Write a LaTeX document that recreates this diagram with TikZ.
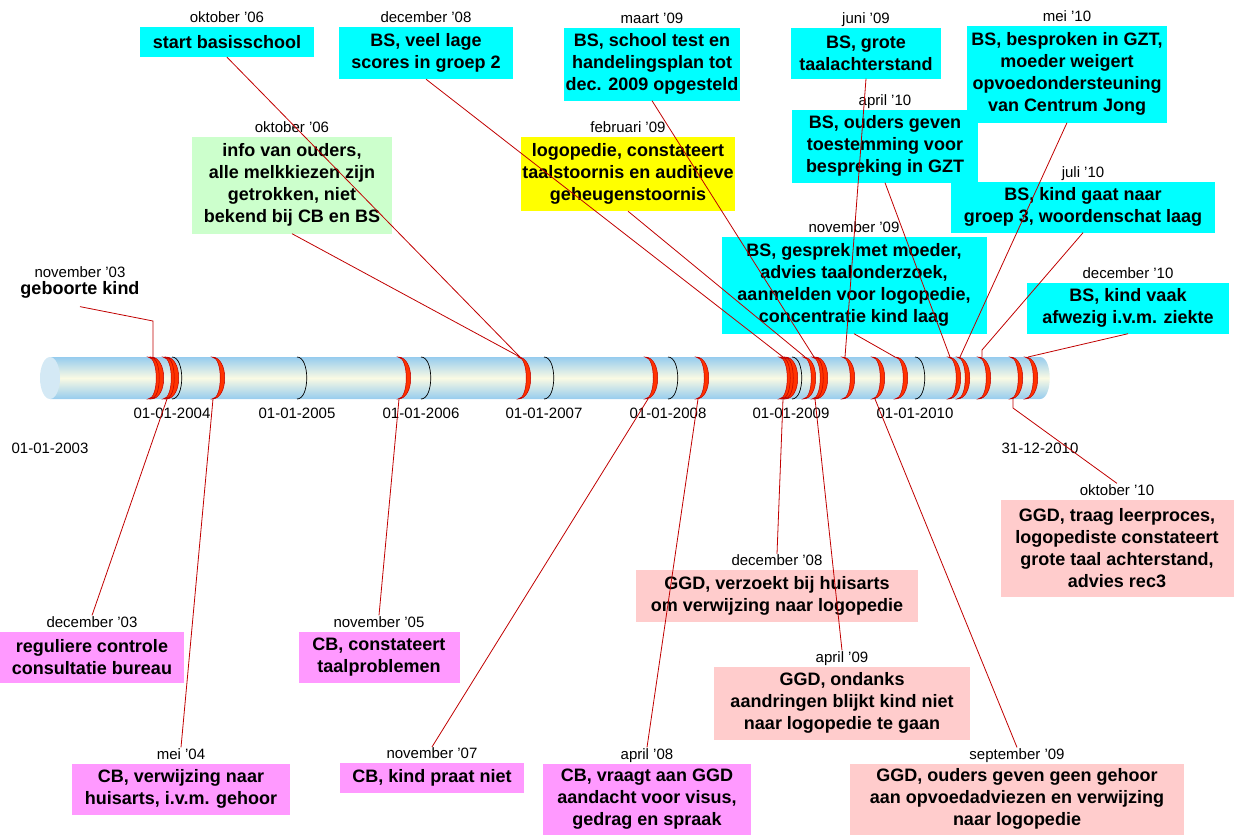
\documentclass[tikz,border=0pt]{standalone}
\usepackage{fontspec}
\setmainfont{Liberation Sans}
\usetikzlibrary{positioning}

\definecolor{bscyan}{HTML}{00FFFF}
\definecolor{cbroze}{HTML}{FF99FF}
\definecolor{ggdroze}{HTML}{FFCCCC}
\definecolor{infogroen}{HTML}{CCFFCC}
\definecolor{logogeel}{HTML}{FFFF00}
\definecolor{lijnrood}{HTML}{C00000}
\definecolor{ringrood}{HTML}{FF3300}
\definecolor{buisblauw}{HTML}{96CCEE}
\definecolor{buiscreme}{HTML}{FAFAE4}
\definecolor{buiseind}{HTML}{D4E9F5}

\tikzset{
  gebeurtenis/.style={font=\bfseries\fontsize{18}{22}\selectfont, align=center, inner sep=0pt},
  bs/.style={gebeurtenis, fill=bscyan},
  cb/.style={gebeurtenis, fill=cbroze},
  ggd/.style={gebeurtenis, fill=ggdroze},
  datum/.style={font=\fontsize{15}{17}\selectfont, inner sep=1pt, text height=10.5pt, text depth=3pt},
  jaartal/.style={font=\fontsize{15}{17}\selectfont, inner sep=0pt},
  lijn/.style={draw=lijnrood, line width=0.8pt},
}

\begin{document}
\begin{tikzpicture}[x=1pt, y=-1pt]
\useasboundingbox (0,0) rectangle (1234,836);
%
% de tijdbuis
	\shade[top color=buisblauw, bottom color=buisblauw, middle color=buiscreme]
		(50,357) -- (1040,357) .. controls (1053,357) and (1053,399) .. (1040,399) -- (50,399) -- cycle;
	\fill[buiseind] (50,378) ellipse [x radius=10, y radius=21];
%
% jaargrenzen
	\foreach \x in {172,297,421,544,668,792,915}
		\draw[line width=0.7pt] (\x,357) .. controls (\x+13,357) and (\x+13,399) .. (\x,399);
%
% gebeurtenissen
	\foreach \x in {148,151,163,166,212,398,518,645,696,779,782,785,803,812,815,842,872,895,948,957,978,1010,1025}
		\draw[draw=lijnrood, fill=ringrood, line width=0.5pt] (\x,357) .. controls (\x+17,357) and (\x+17,399) .. (\x,399)
			.. controls (\x+11,399) and (\x+11,357) .. (\x,357) -- cycle;
%
	\node[jaartal] (j2003) at (50,448) {01-01-2003};
	\node[jaartal] (j2004) at (172,413) {01-01-2004};
	\node[jaartal] (j2005) at (297,413) {01-01-2005};
	\node[jaartal] (j2006) at (421,413) {01-01-2006};
	\node[jaartal] (j2007) at (544,413) {01-01-2007};
	\node[jaartal] (j2008) at (668,413) {01-01-2008};
	\node[jaartal] (j2009) at (791,413) {01-01-2009};
	\node[jaartal] (j2010) at (915,413) {01-01-2010};
	\node[jaartal] (jeind) at (1040,448) {31-12-2010};
%
% aanhechtpunten op de buis
	\coordinate (p-geb) at (153,357);
	\coordinate (p-okt06) at (520,357);
	\coordinate (p-dec08) at (783,357);
	\coordinate (p-feb09) at (805,357);
	\coordinate (p-mrt09) at (814,357);
	\coordinate (p-jun09) at (845,357);
	\coordinate (p-nov09) at (895,357);
	\coordinate (p-apr10) at (950,357);
	\coordinate (p-mei10) at (960,357);
	\coordinate (p-jul10) at (982,357);
	\coordinate (p-dec10) at (1028,357);
	\coordinate (q-dec03) at (167,399);
	\coordinate (q-mei04) at (213,399);
	\coordinate (q-nov05) at (399,399);
	\coordinate (q-nov07) at (648,399);
	\coordinate (q-apr08) at (698,399);
	\coordinate (q-dec08) at (783,399);
	\coordinate (q-apr09) at (815,399);
	\coordinate (q-sep09) at (875,399);
	\coordinate (q-okt10) at (1013,399);
%
% boven de buis
	\node[gebeurtenis] (geb) at (80,290) {geboorte kind};
	\node[datum, above=0pt of geb] (gebd) {november '03};
	\node[bs, minimum width=174, minimum height=30] (start) at (227,42) {start basisschool};
	\node[datum, above=0pt of start] (startd) {oktober '06};
	\node[bs, minimum width=174, minimum height=52] (scores) at (426,53) {BS, veel lage\\scores in groep 2};
	\node[datum, above=0pt of scores] (scoresd) {december '08};
	\node[bs, minimum width=176, minimum height=73] (test) at (652,64) {BS, school test en\\handelingsplan tot\\dec. 2009 opgesteld};
	\node[datum, above=0pt of test] (testd) {maart '09};
	\node[bs, minimum width=150, minimum height=51] (achter) at (866,53) {BS, grote\\taalachterstand};
	\node[datum, above=0pt of achter] (achterd) {juni '09};
	\node[bs, minimum width=200, minimum height=97] (gzt) at (1067,74) {BS, besproken in GZT,\\moeder weigert\\opvoedondersteuning\\van Centrum Jong};
	\node[datum, above=0pt of gzt] (gztd) {mei '10};
	\node[gebeurtenis, fill=infogroen, minimum width=200, minimum height=97] (info) at (292,185) {info van ouders,\\alle melkkiezen zijn\\getrokken, niet\\bekend bij CB en BS};
	\node[datum, above=0pt of info] (infod) {oktober '06};
	\node[gebeurtenis, fill=logogeel, minimum width=214, minimum height=74] (logo) at (628,174) {logopedie, constateert\\taalstoornis en auditieve\\geheugenstoornis};
	\node[datum, above=0pt of logo] (logod) {februari '09};
	\node[bs, minimum width=186, minimum height=73] (toest) at (885,146) {BS, ouders geven\\toestemming voor\\bespreking in GZT};
	\node[datum, above=0pt of toest] (toestd) {april '10};
	\node[bs, minimum width=264, minimum height=51] (groep) at (1083,207) {BS, kind gaat naar\\groep 3, woordenschat laag};
	\node[datum, above=0pt of groep] (groepd) {juli '10};
	\node[bs, minimum width=265, minimum height=97] (gesprek) at (854,285) {BS, gesprek met moeder,\\advies taalonderzoek,\\aanmelden voor logopedie,\\concentratie kind laag};
	\node[datum, above=0pt of gesprek] (gesprekd) {november '09};
	\node[bs, minimum width=202, minimum height=51] (afwezig) at (1128,308) {BS, kind vaak\\afwezig i.v.m. ziekte};
	\node[datum, above=0pt of afwezig] (afwezigd) {december '10};
%
% onder de buis
	\node[cb, minimum width=184, minimum height=51] (contr) at (92,657) {reguliere controle\\consultatie bureau};
	\node[datum, above=0pt of contr] (contrd) {december '03};
	\node[cb, minimum width=161, minimum height=51] (taalpr) at (379,657) {CB, constateert\\taalproblemen};
	\node[datum, above=0pt of taalpr] (taalprd) {november '05};
	\node[cb, minimum width=218, minimum height=51] (huis) at (181,789) {CB, verwijzing naar\\huisarts, i.v.m. gehoor};
	\node[datum, above=0pt of huis] (huisd) {mei '04};
	\node[cb, minimum width=184, minimum height=30] (praat) at (432,778) {CB, kind praat niet};
	\node[datum, above=0pt of praat] (praatd) {november '07};
	\node[cb, minimum width=208, minimum height=71] (visus) at (647,799) {CB, vraagt aan GGD\\aandacht voor visus,\\gedrag en spraak};
	\node[datum, above=0pt of visus] (visusd) {april '08};
	\node[ggd, minimum width=282, minimum height=52] (verzoek) at (777,596) {GGD, verzoekt bij huisarts\\om verwijzing naar logopedie};
	\node[datum, above=0pt of verzoek] (verzoekd) {december '08};
	\node[ggd, minimum width=256, minimum height=73] (ondanks) at (842,703) {GGD, ondanks\\aandringen blijkt kind niet\\naar logopedie te gaan};
	\node[datum, above=0pt of ondanks] (ondanksd) {april '09};
	\node[ggd, minimum width=334, minimum height=71] (gehoor) at (1017,799) {GGD, ouders geven geen gehoor\\aan opvoedadviezen en verwijzing\\naar logopedie};
	\node[datum, above=0pt of gehoor] (gehoord) {september '09};
	\node[ggd, minimum width=233, minimum height=97] (traag) at (1117,548) {GGD, traag leerproces,\\logopediste constateert\\grote taal achterstand,\\advies rec3};
	\node[datum, above=0pt of traag] (traagd) {oktober '10};
%
% verbindingslijnen
	\draw[lijn] ([yshift=-8pt]geb.south) -- (153,321) -- (p-geb);
	\draw[lijn] (start.south) -- (p-okt06);
	\draw[lijn] (info.south) -- (p-okt06);
	\draw[lijn] (scores.south) -- (p-dec08);
	\draw[lijn] (test.south) -- (p-mrt09);
	\draw[lijn] (logo.south) -- (p-feb09);
	\draw[lijn] (achter.south) -- (p-jun09);
	\draw[lijn] (toest.south) -- (p-apr10);
	\draw[lijn] (gzt.south) -- (p-mei10);
	\draw[lijn] (groep.south) -- (982,350) -- (p-jul10);
	\draw[lijn] (gesprek.south) -- (p-nov09);
	\draw[lijn] (afwezig.south) -- (p-dec10);
%
	\draw[lijn] (q-dec03) -- (contrd.north);
	\draw[lijn] (q-mei04) -- (huisd.north);
	\draw[lijn] (q-nov05) -- (taalprd.north);
	\draw[lijn] (q-nov07) -- (praatd.north);
	\draw[lijn] (q-apr08) -- (visusd.north);
	\draw[lijn] (q-dec08) -- (verzoekd.north);
	\draw[lijn] (q-apr09) -- (ondanksd.north);
	\draw[lijn] (q-sep09) -- (gehoord.north);
	\draw[lijn] (q-okt10) -- (1013,408) -- (traagd.north);
\end{tikzpicture}
\end{document}
